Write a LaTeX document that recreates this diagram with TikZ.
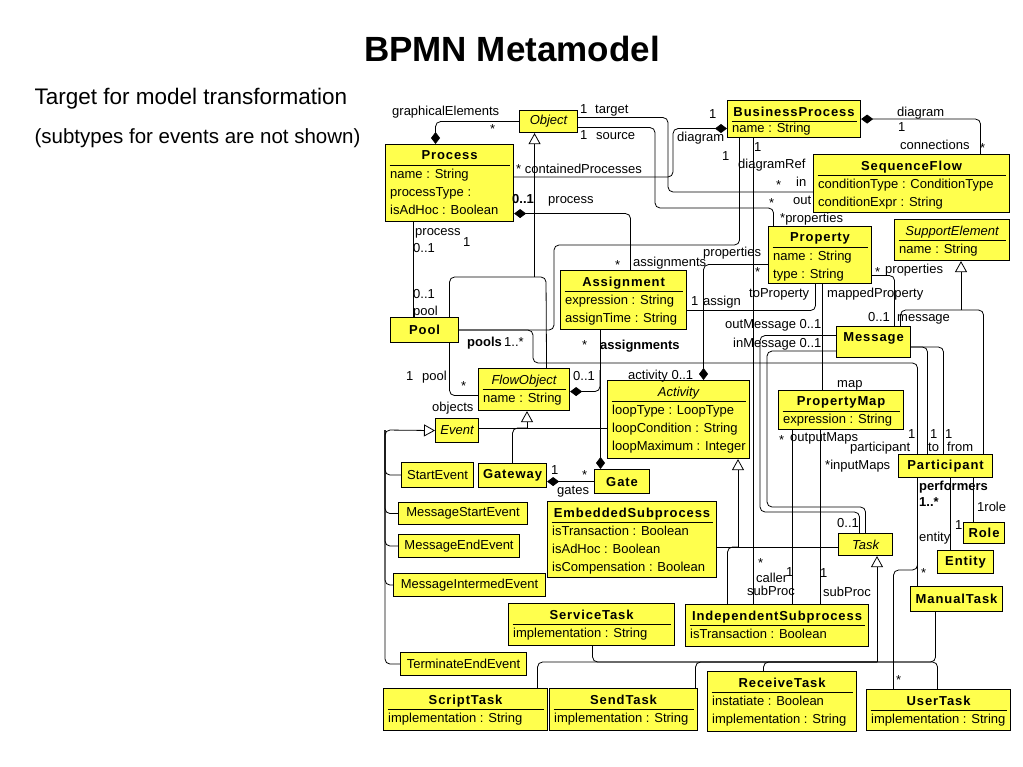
\documentclass[tikz,border=0pt]{standalone}
\usepackage{fontspec}
\setmainfont{Liberation Sans}
\newfontfamily\hdfont[LetterSpace=7]{Liberation Sans}
\usetikzlibrary{arrows.meta}
\definecolor{umlyellow}{RGB}{255,255,77}
\newcommand{\uml}{\fontsize{13}{18}\selectfont}

\begin{document}
\begin{tikzpicture}[x=1pt, y=-1pt,
    cls/.style={draw, fill=umlyellow, line width=1.1pt, anchor=north west, inner sep=0pt, font=\uml},
    clsdiv/.style={cls, path picture={\draw[line width=0.9pt] ([xshift=4pt,yshift=-21pt]path picture bounding box.north west) -- ([xshift=-4pt,yshift=-21pt]path picture bounding box.north east);}},
    hd/.style={anchor=north, inner sep=0pt, yshift=-6.5pt, font=\uml\hdfont\bfseries},
    ihd/.style={anchor=north, inner sep=0pt, yshift=-6.5pt, font=\uml\itshape},
    attrs/.style={anchor=north west, inner sep=0pt, align=left, xshift=5pt, yshift=-25pt, font=\uml},
    lbl/.style={anchor=base west, inner sep=0pt, font=\uml},
    link/.style={line width=0.8pt, rounded corners=5pt},
    comp/.style={link, {Diamond[length=12pt, width=9pt]}-},
    gen/.style={link, -{Triangle[open, fill=white, length=11pt, width=12pt]}}
]
\fill[white] (0,0) rectangle (1023,767);
\useasboundingbox (0,0) rectangle (1023,767);

% Title
\node[font=\fontsize{35}{40}\selectfont\bfseries] (title) at (512,49) {BPMN Metamodel};
\node[anchor=west, font=\fontsize{22.5}{26}\selectfont] (target) at (31,99) {Target for model transformation};
\node[anchor=west, font=\fontsize{20.5}{24}\selectfont] (note) at (31,138) {(subtypes for events are not shown)};

% Classes with attributes
\node[cls, minimum width=58, minimum height=22, font=\uml\itshape] (object) at (519,110) {Object};
\node[clsdiv, minimum width=133, minimum height=37, label={[hd]north:BusinessProcess}, label={[attrs, yshift=2pt]north west:{name : String}}] (bproc) at (727,100) {};
\node[clsdiv, minimum width=128, minimum height=77, label={[hd]north:Process}, label={[attrs]north west:{name : String\\processType :\\isAdHoc : Boolean}}] (process) at (385,144) {};
\node[clsdiv, minimum width=196, minimum height=58, label={[hd]north:SequenceFlow}, label={[attrs]north west:{conditionType : ConditionType\\conditionExpr : String}}] (seqflow) at (813,154) {};
\node[clsdiv, minimum width=103, minimum height=57, label={[hd]north:Property}, label={[attrs]north west:{name : String\\type : String}}] (property) at (768,226) {};
\node[clsdiv, minimum width=115, minimum height=41, label={[ihd]north:SupportElement}, label={[attrs]north west:{name : String}}] (supportel) at (894,219) {};
\node[clsdiv, minimum width=126, minimum height=59, label={[hd]north:Assignment}, label={[attrs]north west:{expression : String\\assignTime : String}}] (assignment) at (560,270) {};
\node[clsdiv, minimum width=91, minimum height=42, label={[ihd]north:FlowObject}, label={[attrs]north west:{name : String}}] (flowobj) at (478,368) {};
\node[clsdiv, minimum width=142, minimum height=78, label={[ihd]north:Activity}, label={[attrs]north west:{loopType : LoopType\\loopCondition : String\\loopMaximum : Integer}}] (activity) at (607,380) {};
\node[clsdiv, minimum width=125, minimum height=39, label={[hd]north:PropertyMap}, label={[attrs, yshift=1pt]north west:{expression : String}}] (propmap) at (778,390) {};
\node[clsdiv, minimum width=169, minimum height=76, label={[hd]north:EmbeddedSubprocess}, label={[attrs]north west:{isTransaction : Boolean\\isAdHoc : Boolean\\isCompensation : Boolean}}] (embsub) at (547,501) {};
\node[clsdiv, minimum width=166, minimum height=42, label={[hd]north:ServiceTask}, label={[attrs]north west:{implementation : String}}] (servicetask) at (508,603) {};
\node[clsdiv, minimum width=183, minimum height=42, label={[hd]north:IndependentSubprocess}, label={[attrs]north west:{isTransaction : Boolean}}] (indepsub) at (685,604) {};
\node[clsdiv, minimum width=164, minimum height=42, label={[hd]north:ScriptTask}, label={[attrs]north west:{implementation : String}}] (scripttask) at (383,688) {};
\node[clsdiv, minimum width=148, minimum height=42, label={[hd]north:SendTask}, label={[attrs]north west:{implementation : String}}] (sendtask) at (549,688) {};
\node[clsdiv, minimum width=149, minimum height=60, label={[hd]north:ReceiveTask}, label={[attrs]north west:{instatiate : Boolean\\implementation : String}}] (receivetask) at (707,671) {};
\node[clsdiv, minimum width=144, minimum height=41, label={[hd]north:UserTask}, label={[attrs]north west:{implementation : String}}] (usertask) at (866,689) {};

% Plain classes
\node[cls, minimum width=68, minimum height=25, font=\uml\hdfont\bfseries] (pool) at (390,317) {Pool};
\node[cls, minimum width=74, minimum height=31, label={[hd]north:Message}] (message) at (836,326) {};
\node[cls, minimum width=43, minimum height=24, font=\uml\itshape] (event) at (435,418) {Event};
\node[cls, minimum width=72, minimum height=25] (startev) at (401,462) {StartEvent};
\node[cls, minimum width=68, minimum height=24, font=\uml\hdfont\bfseries] (gateway) at (478,463) {Gateway};
\node[cls, minimum width=55, minimum height=24, font=\uml\hdfont\bfseries] (gate) at (594,469) {Gate};
\node[cls, minimum width=129, minimum height=22] (msgstart) at (398,502) {MessageStartEvent};
\node[cls, minimum width=121, minimum height=23] (msgend) at (398,534) {MessageEndEvent};
\node[cls, minimum width=152, minimum height=23] (msginter) at (393,573) {MessageIntermedEvent};
\node[cls, minimum width=126, minimum height=23] (termend) at (400,652) {TerminateEndEvent};
\node[cls, minimum width=54, minimum height=22, font=\uml\itshape] (task) at (838,533) {Task};
\node[cls, minimum width=94, minimum height=23, font=\uml\hdfont\bfseries] (participant) at (898,454) {Participant};
\node[cls, minimum width=41, minimum height=21, font=\uml\hdfont\bfseries] (role) at (963,522) {Role};
\node[cls, minimum width=56, minimum height=23, font=\uml\hdfont\bfseries] (entity) at (937,550) {Entity};
\node[cls, minimum width=92, minimum height=25, font=\uml\hdfont\bfseries] (manualtask) at (910,586) {ManualTask};

% Junctions of the generalization trees
\coordinate (evj) at (385,430);
\coordinate (flowj) at (527,428);
\coordinate (actj) at (738,547);
\coordinate (taskj) at (877,662);
\coordinate (supj) at (961,310);

% Associations
\draw[comp] ([xshift=-14pt]process.north) |- (object.west);
\draw[link] ([yshift=4pt]object.east) -| (668,192) -- (seqflow.west |- 668,192);
\draw[link] ([yshift=-6pt]object.east) -| (655,208) -| ([xshift=-46.5pt]property.north);
\draw[comp] ([yshift=-9.5pt]bproc.west) -| (673,177) -- (process.east |- 673,177);
\draw[comp] ([yshift=-30.5pt]process.east) -| ([xshift=7pt]assignment.north);
\draw[link] ([xshift=-54.5pt]bproc.south) |- (554,245) |- (pool.east);
\draw[link] ([xshift=-40.5pt]bproc.south) -- ([xshift=-40.5pt]bproc.south |- indepsub.north);
\draw[comp] (bproc.east) -| ([xshift=69pt]seqflow.north);
\draw[link] ([yshift=-20.5pt]property.east) -| ([xshift=21pt]message.north);
\draw[link] ([yshift=-10.5pt]assignment.east) -| ([xshift=-4.5pt]property.south);
\draw[link] ([xshift=2.5pt]property.south) -- ([xshift=2.5pt]property.south |- propmap.north);
\draw[comp] ([xshift=25pt]activity.north) |- ([yshift=-9.5pt]property.west);
\draw[comp] ([xshift=-21.5pt]gate.north) -- ([xshift=-21.5pt]gate.north |- assignment.south);
\draw[comp] ([yshift=-2pt]flowobj.east) -| (600,370);
\draw[link] ([xshift=-36pt]process.south) -- ([xshift=-36pt]process.south |- pool.north);
\draw[link] ([xshift=25pt]pool.north) |- (546,277) -- ([xshift=22.5pt]flowobj.north);
\draw[link] ([xshift=25pt]pool.south) |- ([yshift=-6pt]flowobj.west);
\draw[link] (pool.east) -| (533,363) -| ([xshift=-28pt]participant.north);
\draw[link] ([yshift=-5pt]message.east) -| ([xshift=-18pt]participant.north);
\draw[link] ([yshift=-5pt]message.east) -| ([xshift=-2pt]participant.north);
\draw[link] ([yshift=6.5pt]message.west) -| (760,512) -| ([xshift=-6pt]task.north);
\draw[link] ([yshift=-9pt]message.west) -| (767,507) -| (task.north);
\draw[comp] (gateway.east |- gate.west) -- (gate.west);
\draw[link] ([xshift=-48.5pt]propmap.south) -- ([xshift=-48.5pt]propmap.south |- indepsub.north);
\draw[link] ([xshift=-20.5pt]propmap.south) -- ([xshift=-20.5pt]propmap.south |- indepsub.north);
\draw[link] ([xshift=-28pt]participant.south) -- ([xshift=-28pt]participant.south |- manualtask.north);
\draw[link] ([xshift=-28pt]participant.south) |- (905,570) -| ([xshift=-45pt]usertask.north);
\draw[link] ([xshift=5pt]participant.south) -- ([xshift=5pt]participant.south |- entity.north);
\draw[link] ([xshift=28pt]participant.south) -- ([xshift=28pt]participant.south |- role.north);

% Generalizations
\draw[gen] ([xshift=-14pt]object.south |- 0,277) -- ([xshift=-14pt]object.south);
\draw[gen] (supj) -- (supj |- supportel.south);
\draw[link] ([xshift=27pt]message.north) |- (supj) -| ([xshift=38pt]participant.north);
\draw[gen] (flowj) -- (flowj |- flowobj.south);
\draw[link] ([yshift=2pt]event.east) -- ([yshift=2pt]event.east -| activity.west);
\draw[link] (flowj) -| (gateway.north);
\draw[gen] (termend.west) -| (evj) -- (event.west);
\draw[link] (startev.west) -| (evj);
\draw[link] (msgstart.west) -| (evj);
\draw[link] (msgend.west) -| (evj);
\draw[link] (msginter.west) -| (evj);
\draw[gen] (actj) -- (actj |- activity.south);
\draw[link] (embsub.east |- actj) -- (task.west |- actj);
\draw[link] (actj) -| ([xshift=-49.5pt]indepsub.north);
\draw[gen] (taskj) -- (taskj |- task.south);
\draw[link] ([xshift=72pt]scripttask.north) |- (taskj);
\draw[link] ([xshift=72pt]sendtask.north) |- (taskj);
\draw[link] ([xshift=-18.5pt]receivetask.north) |- (taskj);
\draw[link] ([xshift=1pt]servicetask.south) |- (taskj);
\draw[link] ([xshift=-21pt]manualtask.south) |- (taskj);
\draw[link] ([xshift=-1pt]usertask.north) |- (taskj);

% Role names and multiplicities
\node[lbl] at (392,116) {graphicalElements};
\node[lbl] at (490,134) {*};
\node[lbl] at (580,114) {1};
\node[lbl] at (595,114) {target};
\node[lbl] at (580,140) {1};
\node[lbl] at (596,140) {source};
\node[lbl] at (516,174) {* containedProcesses};
\node[lbl] at (709,119) {1};
\node[lbl] at (677,142) {diagram};
\node[lbl] at (722,161) {1};
\node[lbl] at (754,152) {1};
\node[lbl] at (738,169) {diagramRef};
\node[lbl] at (776,190) {*};
\node[lbl] at (796,187) {in};
\node[lbl] at (769,208) {*};
\node[lbl] at (793,205) {out};
\node[lbl] at (897,117) {diagram};
\node[lbl] at (898,132) {1};
\node[lbl] at (900,150) {connections};
\node[lbl] at (980,153) {*};
\node[lbl, font=\uml\bfseries] at (512,204) {0..1};
\node[lbl] at (548,204) {process};
\node[lbl] at (780,223) {*properties};
\node[lbl] at (415,236) {process};
\node[lbl] at (413,253) {0..1};
\node[lbl] at (463,247) {1};
\node[lbl] at (703,257) {properties};
\node[lbl] at (615,270) {*};
\node[lbl] at (633,267) {assignments};
\node[lbl] at (755,277) {*};
\node[lbl] at (875,277) {*};
\node[lbl] at (885,274) {properties};
\node[lbl] at (413,299) {0..1};
\node[lbl] at (413,316) {pool};
\node[lbl] at (691,306) {1};
\node[lbl] at (703,306) {assign};
\node[lbl] at (749,298) {toProperty};
\node[lbl] at (827,298) {mappedProperty};
\node[lbl] at (868,322) {0..1};
\node[lbl] at (897,322) {message};
\node[lbl] at (725,329) {outMessage 0..1};
\node[lbl] at (733,348) {inMessage 0..1};
\node[lbl, font=\uml\bfseries] at (467,347) {pools};
\node[lbl] at (504,347) {1..*};
\node[lbl] at (582,350) {*};
\node[lbl, font=\uml\bfseries] at (600,349) {assignments};
\node[lbl] at (628,379) {activity 0..1};
\node[lbl] at (406,381) {1};
\node[lbl] at (422,381) {pool};
\node[lbl] at (461,390) {*};
\node[lbl] at (573,381) {0..1};
\node[lbl] at (837,387) {map};
\node[lbl] at (432,411) {objects};
\node[lbl] at (779,444) {*};
\node[lbl] at (790,441) {outputMaps};
\node[lbl] at (908,438) {1};
\node[lbl] at (850,451) {participant};
\node[lbl] at (930,438) {1};
\node[lbl] at (928,451) {to};
\node[lbl] at (945,438) {1};
\node[lbl] at (947,451) {from};
\node[lbl] at (825,469) {*inputMaps};
\node[lbl, font=\uml\bfseries] at (919,490) {performers};
\node[lbl, font=\uml\bfseries] at (919,506) {1..*};
\node[lbl] at (955,529) {1};
\node[lbl] at (919,541) {entity};
\node[lbl] at (977,511) {1role};
\node[lbl] at (837,527) {0..1};
\node[lbl] at (551,474) {1};
\node[lbl] at (582,479) {*};
\node[lbl] at (557,494) {gates};
\node[lbl] at (758,567) {*};
\node[lbl] at (756,582) {caller};
\node[lbl] at (786,576) {1};
\node[lbl] at (747,595) {subProc};
\node[lbl] at (820,577) {1};
\node[lbl] at (823,596) {subProc};
\node[lbl] at (921,577) {*};
\node[lbl] at (896,684) {*};

\end{tikzpicture}
\end{document}
